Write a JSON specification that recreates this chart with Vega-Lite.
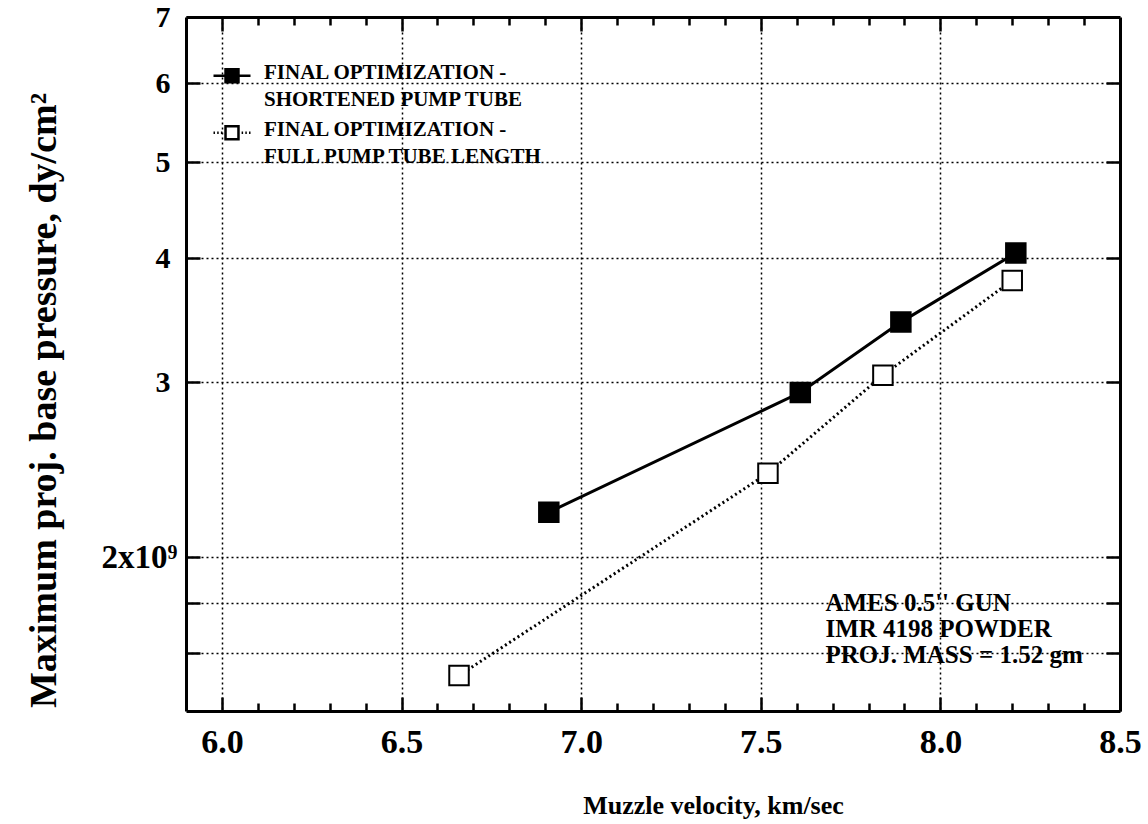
{
  "$schema": "https://vega.github.io/schema/vega-lite/v6.json",
  "width": 934,
  "height": 694,
  "autosize": {"type": "none"},
  "padding": {"left": 186, "top": 17, "right": 28, "bottom": 113},
  "background": "white",
  "config": {
    "font": "Liberation Serif",
    "view": {"stroke": null},
    "style": {"guide-label": {"lineHeight": 27}},
    "axis": {"domainColor": "black", "domainWidth": 3, "tickColor": "black", "tickWidth": 2.5, "labelColor": "black", "titleColor": "black"}
  },
  "data": {
    "values": [
      {"s": "short", "v": 6.91, "p": 2.22e9},
      {"s": "short", "v": 7.61, "p": 2.93e9},
      {"s": "short", "v": 7.89, "p": 3.45e9},
      {"s": "short", "v": 8.21, "p": 4.05e9},
      {"s": "full", "v": 6.66, "p": 1.52e9},
      {"s": "full", "v": 7.52, "p": 2.43e9},
      {"s": "full", "v": 7.84, "p": 3.05e9},
      {"s": "full", "v": 8.2, "p": 3.8e9}
    ]
  },
  "layer": [
    {
      "transform": [{"filter": "datum.s == 'short'"}],
      "mark": {"type": "line", "color": "black", "strokeWidth": 3},
      "encoding": {
        "x": {
          "field": "v", "type": "quantitative",
          "scale": {"domain": [5.9, 8.5], "nice": false, "zero": false},
          "axis": {
            "orient": "bottom",
            "title": "Muzzle velocity, km/sec",
            "titleFontSize": 26, "titleFontWeight": "bold",
            "titleX": 527, "titleY": 94, "titleAlign": "center", "titleBaseline": "middle",
            "values": [6, 6.1, 6.2, 6.3, 6.4, 6.5, 6.6, 6.7, 6.8, 6.9, 7, 7.1, 7.2, 7.3, 7.4, 7.5, 7.6, 7.7, 7.8, 7.9, 8, 8.1, 8.2, 8.3, 8.4, 8.5],
            "labelExpr": "abs(datum.value*2 - round(datum.value*2)) < 0.01 ? format(datum.value, '.1f') : ''",
            "labelFontSize": 34, "labelFontWeight": "bold",
            "labelPadding": 28, "labelOverlap": false, "labelFlush": false,
            "tickSize": {"condition": {"test": "abs(datum.value*2 - round(datum.value*2)) < 0.01", "value": -14}, "value": -8},
            "grid": true,
            "gridOpacity": {"condition": {"test": "abs(datum.value*2 - round(datum.value*2)) < 0.01 && datum.value < 8.4", "value": 1}, "value": 0},
            "gridDash": [2, 3], "gridColor": "black", "gridWidth": 1.5
          }
        },
        "y": {
          "field": "p", "type": "quantitative",
          "scale": {"type": "log", "domain": [1.4e9, 7e9], "nice": false},
          "axis": {
            "orient": "left",
            "title": "Maximum proj. base pressure, dy/cm²",
            "titleFontSize": 38, "titleFontWeight": "bold",
            "titleX": -142, "titleY": 383, "titleAlign": "center", "titleBaseline": "middle",
            "values": [1.6e9, 1.8e9, 2e9, 3e9, 4e9, 5e9, 6e9, 7e9],
            "labelExpr": "datum.value == 2e9 ? '2x10⁹' : (datum.value > 2.9e9 ? format(datum.value/1e9, 'd') : '')",
            "labelFontSize": {"condition": {"test": "datum.value == 2e9", "value": 33}, "value": 30},
            "labelFontWeight": "bold",
            "labelPadding": {"condition": {"test": "datum.value == 2e9", "value": 23}, "value": 30},
            "labelOverlap": false, "labelFlush": false,
            "tickSize": -14,
            "grid": true,
            "gridOpacity": {"condition": {"test": "datum.value < 6.9e9", "value": 1}, "value": 0},
            "gridDash": [2, 3], "gridColor": "black", "gridWidth": 1.5
          }
        }
      }
    },
    {
      "transform": [{"filter": "datum.s == 'full'"}],
      "mark": {"type": "line", "color": "black", "strokeWidth": 3, "strokeDash": [2, 3]},
      "encoding": {
        "x": {"field": "v", "type": "quantitative", "axis": null},
        "y": {"field": "p", "type": "quantitative", "axis": null}
      }
    },
    {
      "transform": [{"filter": "datum.s == 'short'"}],
      "mark": {"type": "point", "shape": "square", "filled": true, "size": 380, "fill": "black", "stroke": "black", "strokeWidth": 2, "opacity": 1},
      "encoding": {
        "x": {
          "field": "v", "type": "quantitative",
          "axis": {
            "orient": "top", "title": null, "labels": false, "grid": false,
            "values": [6, 6.1, 6.2, 6.3, 6.4, 6.5, 6.6, 6.7, 6.8, 6.9, 7, 7.1, 7.2, 7.3, 7.4, 7.5, 7.6, 7.7, 7.8, 7.9, 8, 8.1, 8.2, 8.3, 8.4],
            "tickSize": {"condition": {"test": "abs(datum.value*2 - round(datum.value*2)) < 0.01", "value": -14}, "value": -8}
          }
        },
        "y": {
          "field": "p", "type": "quantitative",
          "axis": {
            "orient": "right", "title": null, "labels": false, "grid": false,
            "values": [1.6e9, 1.8e9, 2e9, 3e9, 4e9, 5e9, 6e9],
            "tickSize": -14
          }
        }
      }
    },
    {
      "transform": [{"filter": "datum.s == 'full'"}],
      "mark": {"type": "point", "shape": "square", "filled": true, "size": 380, "fill": "white", "stroke": "black", "strokeWidth": 2, "opacity": 1},
      "encoding": {
        "x": {"field": "v", "type": "quantitative", "axis": null},
        "y": {"field": "p", "type": "quantitative", "axis": null}
      }
    },
    {
      "transform": [{"filter": "false"}],
      "mark": {"type": "point", "filled": true, "size": 1369, "strokeWidth": 2.5, "opacity": 1},
      "encoding": {
        "x": {"field": "v", "type": "quantitative", "axis": null},
        "y": {"field": "p", "type": "quantitative", "axis": null},
        "fill": {
          "field": "s", "type": "nominal",
          "scale": {"domain": ["short", "full"], "range": ["black", "white"]}
        },
        "stroke": {
          "field": "s", "type": "nominal",
          "scale": {"domain": ["short", "full"], "range": ["black", "black"]}
        },
        "shape": {
          "field": "s", "type": "nominal",
          "scale": {
            "domain": ["short", "full"],
            "range": [
              "M-1,0.15H-0.35M0.35,0.15H1M-0.35,-0.2H0.35V0.5H-0.35Z",
              "M-1,0.15H-0.92M-0.8,0.15H-0.72M-0.6,0.15H-0.52M0.52,0.15H0.6M0.72,0.15H0.8M0.92,0.15H1M-0.35,-0.2H0.35V0.5H-0.35Z"
            ]
          },
          "legend": {
            "orient": "none", "legendX": 26, "legendY": 36,
            "title": null, "direction": "vertical",
            "symbolSize": 1369, "symbolStrokeWidth": 2.5,
            "labelFontSize": 21, "labelFontWeight": "bold", "labelColor": "black",
            "labelOffset": 12, "labelLimit": 0, "rowPadding": -9,
            "labelExpr": "datum.value == 'short' ? ['FINAL OPTIMIZATION -', 'SHORTENED PUMP TUBE'] : ['FINAL OPTIMIZATION -', 'FULL PUMP TUBE LENGTH']",
            "encode": {
              "symbols": {
                "update": {
                  "size": {"value": 1369},
                  "strokeWidth": {"value": 2.5}
                }
              },
              "labels": {
                "enter": {"lineHeight": {"value": 27}},
                "update": {"lineHeight": {"value": 27}}
              }
            }
          }
        }
      }
    },
    {
      "data": {"values": [{}]},
      "mark": {
        "type": "text",
        "text": ["AMES 0.5'' GUN", "IMR 4198 POWDER", "PROJ. MASS = 1.52 gm"],
        "align": "left", "baseline": "top",
        "fontSize": 25, "fontWeight": "bold", "lineHeight": 26, "color": "black"
      },
      "encoding": {
        "x": {"datum": 7.68, "type": "quantitative", "axis": null},
        "y": {"datum": 1.85e9, "type": "quantitative", "axis": null}
      }
    }
  ],
  "resolve": {"axis": {"x": "independent", "y": "independent"}}
}
